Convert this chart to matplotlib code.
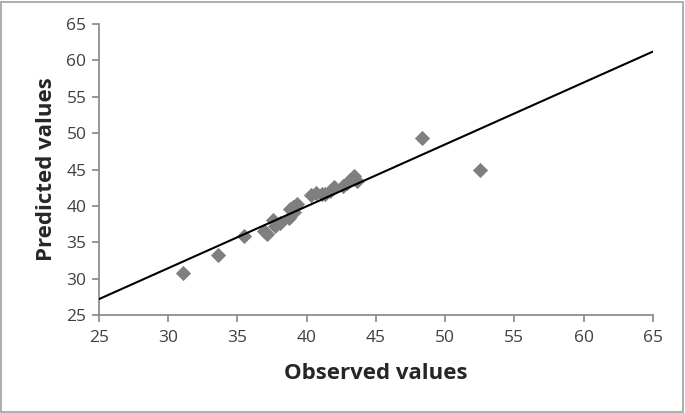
import matplotlib.pyplot as plt
import numpy as np

plt.rcParams['font.family'] = ['Open Sans', 'DejaVu Sans']

# observed vs predicted
observed = [31.1, 33.6, 35.5, 36.9, 37.1, 37.6, 37.7, 38.1, 38.7, 38.8, 39.0, 39.3, 39.1,
            40.3, 40.7, 41.1, 41.3, 41.7, 42.0, 42.6, 42.9, 43.1, 43.4, 43.6, 48.3, 52.5]
predicted = [30.8, 33.2, 35.9, 36.5, 36.2, 38.1, 37.3, 37.6, 38.4, 39.6, 39.9, 40.3, 39.2,
             41.5, 41.8, 41.7, 41.6, 42.0, 42.6, 42.7, 43.2, 43.5, 44.1, 43.4, 49.4, 44.9]

# fitted line
slope = 0.85
intercept = 5.95
line_x = [25, 65]

fig = plt.figure(figsize=(6.85, 4.13), dpi=100)
ax = fig.add_axes([0.1445, 0.237, 0.8085, 0.705])

ax.scatter(observed, predicted, marker='D', s=60, color='#7f7f7f', zorder=2, linewidths=0)
ax.plot(line_x, [slope * x + intercept for x in line_x], color='black', lw=1.5, zorder=3)

ax.set_xlim(25, 65)
ax.set_ylim(25, 65)
ax.set_xticks(range(25, 66, 5))
ax.set_yticks(range(25, 66, 5))
for s in ['top', 'right']:
    ax.spines[s].set_visible(False)
for s in ['left', 'bottom']:
    ax.spines[s].set_color('#868686')
    ax.spines[s].set_linewidth(1.2)
ax.tick_params(direction='out', length=5, width=1.2, color='#868686', labelsize=12.5,
               labelcolor='#404040')
ax.tick_params(axis='x', pad=6)
ax.tick_params(axis='y', pad=4)
ax.set_xlabel('Observed values', fontsize=16, fontweight='bold', color='#262626', labelpad=12)
ax.set_ylabel('Predicted values', fontsize=16, fontweight='bold', color='#262626', labelpad=7)

fig.patches.append(plt.Rectangle((0.002, 0.003), 0.995, 0.993, transform=fig.transFigure,
                                 fill=False, edgecolor='#a0a0a0', lw=1.2))

fig.savefig('out.png', dpi=100)
